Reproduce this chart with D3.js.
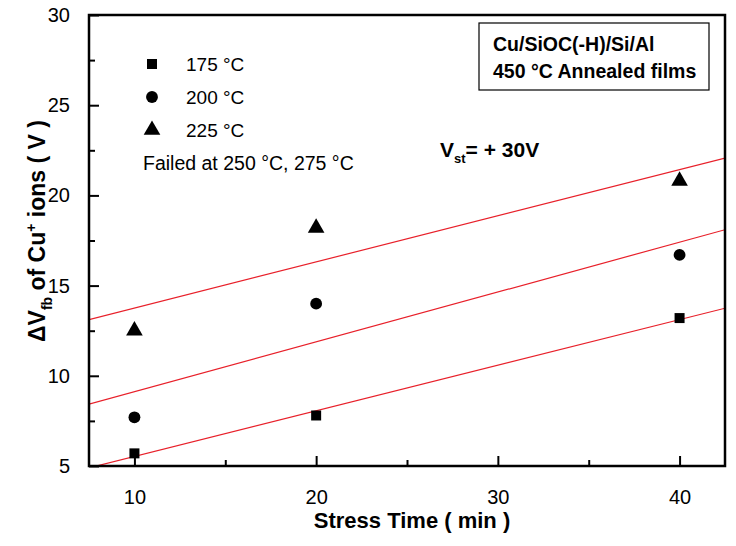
<!DOCTYPE html>
<html>
<head>
<meta charset="utf-8">
<script src="https://cdn.jsdelivr.net/npm/d3@7"></script>
<style>
  body { margin: 0; background: #fff; }
  text { font-family: "Liberation Sans", Arial, sans-serif; fill: #000; }
  .bold { font-weight: bold; }
</style>
</head>
<body>
<div id="chart"></div>
<script>
// data
const times = [10, 20, 40]
const series = ['175 °C', '200 °C', '225 °C']
const v175 = [5.7, 7.8, 13.2]
const v200 = [7.7, 14.0, 16.7]
const v225 = [12.5, 18.2, 20.8]
const xTicks = [10, 20, 30, 40]
const yTicks = [5, 10, 15, 20, 25, 30]
const xMinorTicks = [15, 25, 35]
const yMinorTicks = [7.5, 12.5, 17.5, 22.5, 27.5]
const symbols = [d3.symbolSquare, d3.symbolCircle, d3.symbolTriangle]
const symbolSizes = [100, 110, 120]

const values = [v175, v200, v225]

const width = 736
const height = 546
const margin = { top: 15, right: 11, bottom: 80, left: 89 }
const innerWidth = width - margin.left - margin.right
const innerHeight = height - margin.top - margin.bottom

const svg = d3.select('#chart').append('svg')
  .attr('width', width)
  .attr('height', height)

const main = svg.append('g')
  .attr('transform', `translate(${margin.left}, ${margin.top})`)

const xScale = d3.scaleLinear().domain([7.5, 42.5]).range([0, innerWidth])
const yScale = d3.scaleLinear().domain([5, 30]).range([innerHeight, 0])

// linear fit lines
const fit = ys => {
  const mx = d3.mean(times), my = d3.mean(ys)
  const sxy = d3.sum(times, (t, i) => (t - mx) * (ys[i] - my))
  const sxx = d3.sum(times, t => (t - mx) * (t - mx))
  const b = sxy / sxx
  return x => my + b * (x - mx)
}

main.append('clipPath').attr('id', 'clip')
  .append('rect').attr('width', innerWidth).attr('height', innerHeight)

values.forEach(ys => {
  const f = fit(ys)
  const dom = xScale.domain()
  main.append('line')
    .attr('clip-path', 'url(#clip)')
    .attr('x1', xScale(dom[0])).attr('y1', yScale(f(dom[0])))
    .attr('x2', xScale(dom[1])).attr('y2', yScale(f(dom[1])))
    .attr('stroke', '#e8202a')
    .attr('stroke-width', 1.2)
})

// axes (ticks pointing inward)
const xAxis = d3.axisBottom(xScale).tickValues(xTicks).tickSize(-10).tickPadding(24).tickFormat(d3.format('d'))
const xMinor = d3.axisBottom(xScale).tickValues(xMinorTicks).tickSize(-6)
const yAxis = d3.axisLeft(yScale).tickValues(yTicks).tickSize(-10).tickPadding(19)
const yMinor = d3.axisLeft(yScale).tickValues(yMinorTicks).tickSize(-6)

const styleAxis = g => {
  g.select('.domain').remove()
  g.selectAll('line').attr('stroke', '#000').attr('stroke-width', 2)
  g.selectAll('text').style('font-size', '20px').style('font-family', '"Liberation Sans", Arial, sans-serif')
}
const dropLabels = g => g.selectAll('text').remove()

main.append('g').attr('transform', `translate(0, ${innerHeight})`).call(xAxis).call(styleAxis)
main.append('g').attr('transform', `translate(0, ${innerHeight})`).call(xMinor).call(styleAxis).call(dropLabels)
main.append('g').call(yAxis).call(styleAxis)
main.append('g').call(yMinor).call(styleAxis).call(dropLabels)

// frame
main.append('rect')
  .attr('width', innerWidth)
  .attr('height', innerHeight)
  .attr('fill', 'none')
  .attr('stroke', '#000')
  .attr('stroke-width', 2.5)

// points
values.forEach((ys, s) => {
  main.append('g').selectAll('path')
    .data(ys)
    .enter()
    .append('path')
    .attr('d', d3.symbol().type(symbols[s]).size(symbolSizes[s]))
    .attr('transform', (d, i) => `translate(${xScale(times[i])}, ${yScale(d)})`)
    .attr('fill', '#000')
})

// legend
const legend = svg.append('g')
legend.selectAll('path')
  .data(series)
  .enter()
  .append('path')
  .attr('d', (d, i) => d3.symbol().type(symbols[i]).size(symbolSizes[i])())
  .attr('transform', (d, i) => `translate(152, ${64 + i * 33})`)
  .attr('fill', '#000')
legend.selectAll('text')
  .data(series)
  .enter()
  .append('text')
  .attr('x', 186)
  .attr('y', (d, i) => 64 + i * 33)
  .attr('dy', '0.36em')
  .style('font-size', '19px')
  .text(d => d)
legend.append('text')
  .attr('x', 143).attr('y', 170)
  .style('font-size', '19.5px')
  .text('Failed at 250 °C, 275 °C')

// info box
svg.append('rect')
  .attr('x', 479).attr('y', 23).attr('width', 230).attr('height', 67)
  .attr('fill', 'none').attr('stroke', '#000').attr('stroke-width', 1.2)
svg.append('text').attr('class', 'bold').attr('x', 493).attr('y', 51)
  .style('font-size', '19.5px').text('Cu/SiOC(-H)/Si/Al')
svg.append('text').attr('class', 'bold').attr('x', 493).attr('y', 78)
  .style('font-size', '19.5px').text('450 °C Annealed films')

// V_st label
const vst = svg.append('text').attr('class', 'bold').attr('x', 440).attr('y', 157).style('font-size', '21px')
vst.append('tspan').text('V')
vst.append('tspan').attr('dy', 6).style('font-size', '13px').text('st')
vst.append('tspan').attr('dy', -6).text('= + 30V')

// axis titles
svg.append('text').attr('class', 'bold')
  .attr('x', 412).attr('y', 528)
  .attr('text-anchor', 'middle')
  .style('font-size', '22px')
  .text('Stress Time ( min )')

const yt = svg.append('text').attr('class', 'bold')
  .attr('transform', `translate(45, 231) rotate(-90)`)
  .attr('text-anchor', 'middle')
  .style('font-size', '23px')
yt.append('tspan').text('ΔV')
yt.append('tspan').attr('dy', 7).style('font-size', '14px').text('fb')
yt.append('tspan').attr('dy', -7).text(' of Cu')
yt.append('tspan').attr('dy', -9).style('font-size', '14px').text('+')
yt.append('tspan').attr('dy', 9).text(' ions ( V )')
</script>
</body>
</html>
